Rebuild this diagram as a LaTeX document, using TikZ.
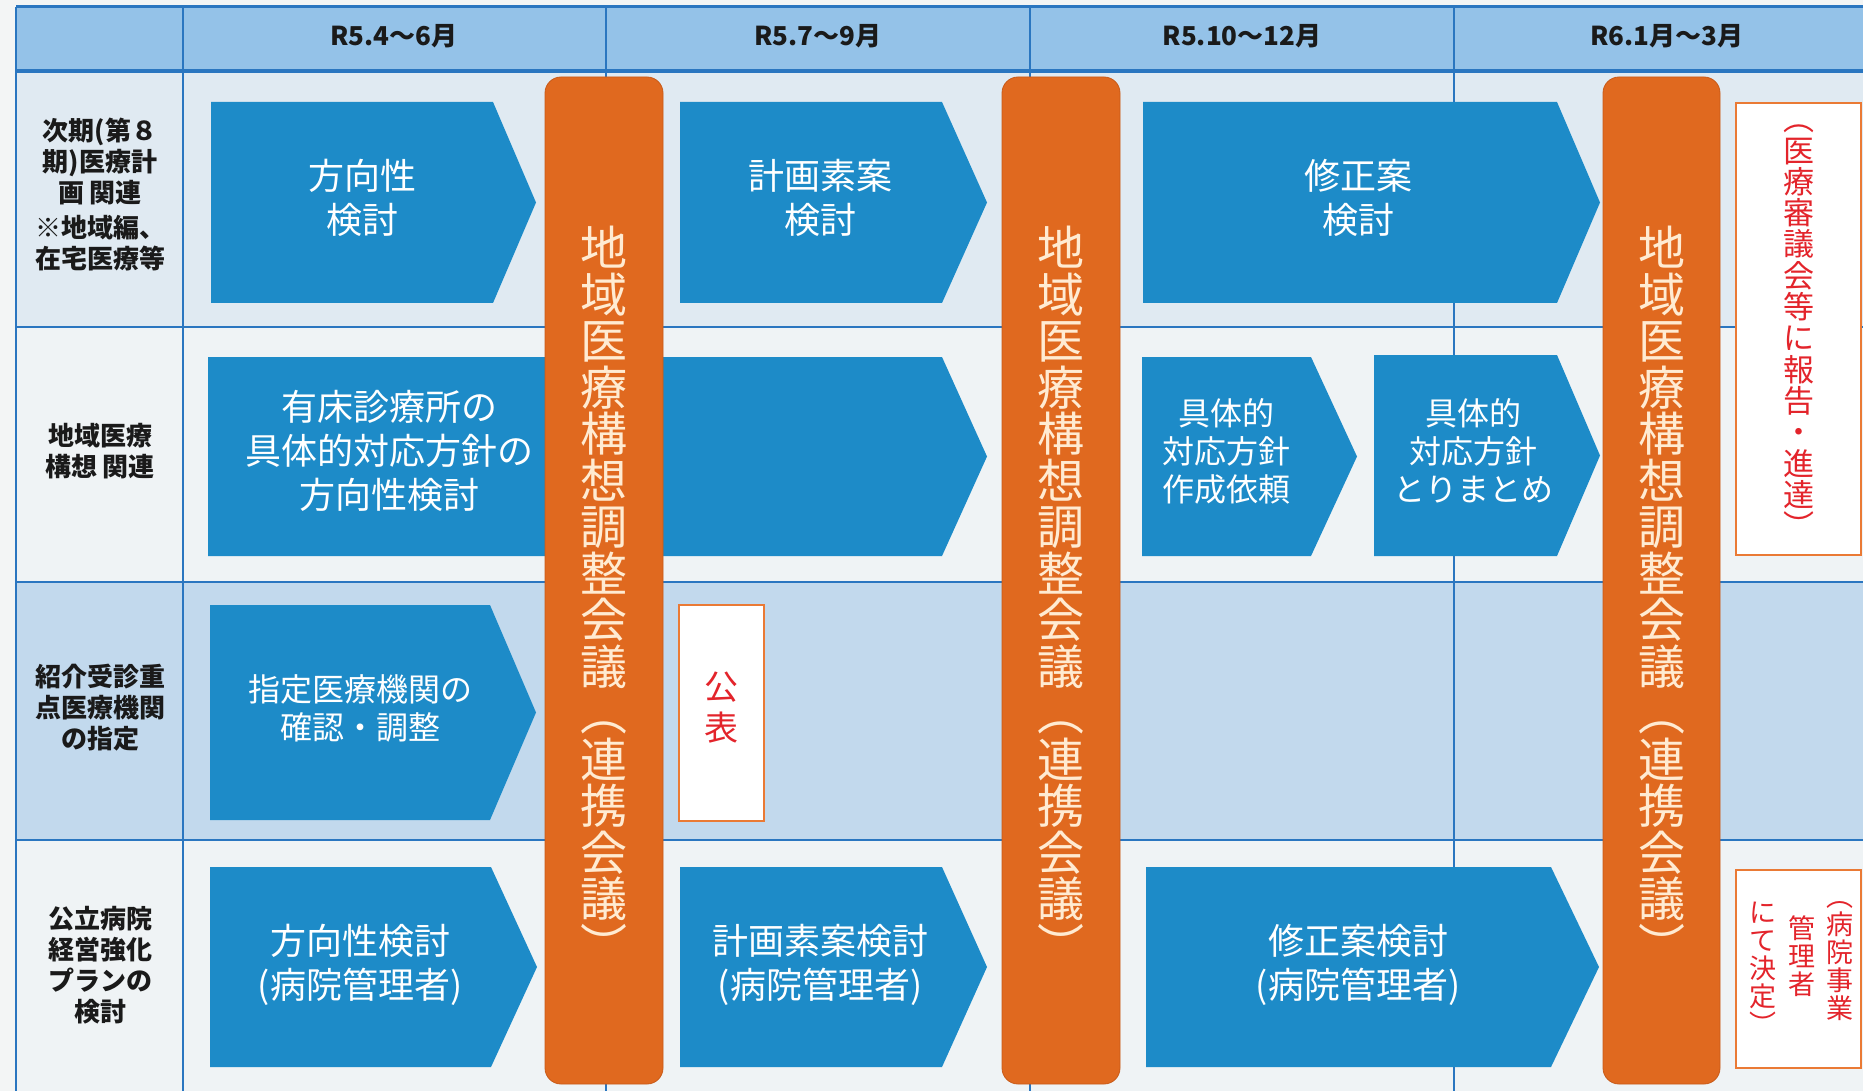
\documentclass[tikz,border=0pt]{standalone}
\usepackage{fontspec}
\setmainfont{Noto Sans CJK JP}
\definecolor{page}{HTML}{F3F5F5}
\definecolor{hdr}{HTML}{94C2E8}
\definecolor{rowA}{HTML}{E0EAF2}
\definecolor{rowB}{HTML}{EFF3F5}
\definecolor{rowC}{HTML}{C2D9ED}
\definecolor{gridc}{HTML}{2A76C0}
\definecolor{ablue}{HTML}{1D8BC8}
\definecolor{orng}{HTML}{E0691F}
\definecolor{orngdk}{HTML}{C85A18}
\definecolor{ptext}{HTML}{FFEBD2}
\definecolor{redtxt}{HTML}{E3242B}
\definecolor{bord}{HTML}{EA7A35}
\definecolor{lbl}{HTML}{1A1A1A}
\begin{document}
\begin{tikzpicture}[x=1pt,y=-1pt,
  gridline/.style={draw=gridc,line width=2pt},
  chevfill/.style={fill=ablue},
  pillar/.style={fill=orng,draw=orngdk,line width=0.8pt,rounded corners=16pt},
  notebox/.style={fill=white,draw=bord,line width=2pt},
  hdrtext/.style={text=lbl,font=\bfseries\fontsize{26}{30}\selectfont,inner sep=0},
  rowlbl/.style={text=lbl,align=center,font=\bfseries\fontsize{26}{31}\selectfont,inner sep=0},
  atbig/.style={text=white,align=center,font=\fontsize{36}{44}\selectfont,inner sep=0},
  atmid/.style={text=white,align=center,font=\fontsize{32}{38}\selectfont,inner sep=0},
  atsmall/.style={text=white,align=center,font=\fontsize{32}{38}\selectfont,inner sep=0},
  pchar/.style={text=ptext,font=\fontsize{47}{47}\selectfont,inner sep=0,text height=0.88em,text depth=0.12em},
  rchar/.style={text=redtxt,font=\fontsize{31}{31}\selectfont,inner sep=0,text height=0.88em,text depth=0.12em},
  rcharS/.style={text=redtxt,font=\fontsize{27}{27}\selectfont,inner sep=0,text height=0.88em,text depth=0.12em},
  rcharL/.style={text=redtxt,font=\fontsize{34}{34}\selectfont,inner sep=0,text height=0.88em,text depth=0.12em}
]
\useasboundingbox (0,0) rectangle (1863,1091);
\fill[page] (0,0) rectangle (1863,1091);
% backgrounds
\fill[hdr] (16,7) rectangle (1863,71);
\fill[rowA] (16,71) rectangle (1863,327);
\fill[rowB] (16,327) rectangle (1863,582);
\fill[rowC] (16,582) rectangle (1863,840);
\fill[rowB] (16,840) rectangle (1863,1091);
% grid
\foreach \gx in {16,183,606,1030,1454} {\draw[gridline] (\gx,7) -- (\gx,1091);}
\draw[gridline,line width=3pt] (16,7) -- (1863,7);
\draw[gridline,line width=4pt] (16,71) -- (1863,71);
\foreach \gy in {327,582,840} {\draw[gridline,line width=2.6pt] (16,\gy) -- (1863,\gy);}
% chevrons
\newcommand{\chev}[5]{\fill[chevfill] (#1,#4) -- (#2,#4) -- (#3,{(#4+#5)/2}) -- (#2,#5) -- (#1,#5) -- cycle;}
\chev{211}{493}{536}{102}{303}
\chev{680}{942}{987}{102}{303}
\chev{1143}{1557}{1600}{102}{303}
\chev{208}{942}{987}{357}{556}
\chev{1142}{1311}{1357}{357}{556}
\chev{1374}{1557}{1600}{355}{556}
\chev{210}{490}{536}{605}{820}
\chev{210}{491}{537}{867}{1067}
\chev{680}{942}{987}{867}{1067}
\chev{1146}{1551}{1599}{867}{1067}
% pillars
\draw[pillar] (545,77) rectangle (663,1084);
\draw[pillar] (1002,77) rectangle (1120,1084);
\draw[pillar] (1603,77) rectangle (1720,1084);
% note boxes
\draw[notebox] (679,605) rectangle (764,821);
\draw[notebox] (1736,103) rectangle (1861,555);
\draw[notebox] (1736,870) rectangle (1861,1068);
% header texts
\node[hdrtext] (h1) at (394,36) {R5.4～6月};
\node[hdrtext] (h2) at (818,36) {R5.7～9月};
\node[hdrtext] (h3) at (1242,36) {R5.10～12月};
\node[hdrtext] (h4) at (1667,36) {R6.1月～3月};
% row labels
\node[rowlbl] (l1) at (100,195) {次期(第８\\期)医療計\\画 関連\\[4pt]※地域編、\\在宅医療等};
\node[rowlbl] (l2) at (100,451) {地域医療\\構想 関連};
\node[rowlbl] (l3) at (100,708) {紹介受診重\\点医療機関\\の指定};
\node[rowlbl] (l4) at (100,965) {公立病院\\経営強化\\プランの\\検討};
% chevron texts
\node[atbig] (a1) at (362,198) {方向性\\検討};
\node[atbig] (a2) at (820,198) {計画素案\\検討};
\node[atbig] (a3) at (1358,198) {修正案\\検討};
\node[atbig] (b1) at (389,451) {有床診療所の\\具体的対応方針の\\方向性検討};
\node[atsmall] (b2) at (1226,451) {具体的\\対応方針\\作成依頼};
\node[atsmall] (b3) at (1473,451) {具体的\\対応方針\\とりまとめ};
\node[atmid] (c1) at (360,708) {指定医療機関の\\確認・調整};
\node[atbig] (d1) at (360,965) {方向性検討\\(病院管理者)};
\node[atbig] (d2) at (820,965) {計画素案検討\\(病院管理者)};
\node[atbig] (d3) at (1358,965) {修正案検討\\(病院管理者)};
% pillar vertical texts
\foreach \px/\pn in {604/pa,1061/pb,1661.5/pc}{
  \foreach \ch [count=\i from 0] in {地,域,医,療,構,想,調,整,会,議,︵,連,携,会,議,︶}{
    \node[pchar] (\pn\i) at (\px,{262+\i*46.5}) {\ch};
  }
}
% 公表
\node[rcharL] (k1) at (721,696) {公};
\node[rcharL] (k2) at (721,737) {表};
% right box 1
\foreach \ch [count=\i from 0] in {︵,医,療,審,議,会,等,に,報,告,・,進,達,︶}{
  \node[rchar] (r\i) at (1799,{127+\i*31.3}) {\ch};
}
% right box 2
\foreach \ch [count=\i from 0] in {︵,病,院,事,業}{
  \node[rcharS] (sa\i) at (1840,{903+\i*28}) {\ch};
}
\foreach \ch [count=\i from 0] in {管,理,者}{
  \node[rcharS] (sb\i) at (1802,{935+\i*28}) {\ch};
}
\foreach \ch [count=\i from 0] in {に,て,決,定,︶}{
  \node[rcharS] (sc\i) at (1763,{919+\i*28}) {\ch};
}
\end{tikzpicture}
\end{document}
